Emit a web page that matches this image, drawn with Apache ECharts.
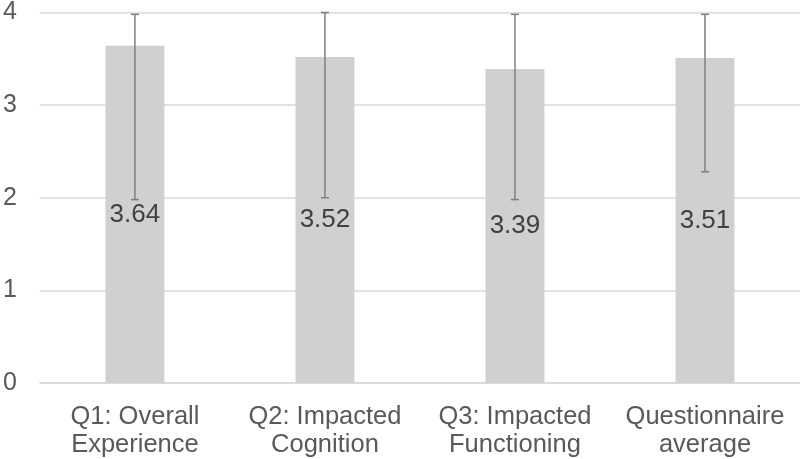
<!DOCTYPE html>
<html><head><meta charset="utf-8">
<script src="https://cdn.jsdelivr.net/npm/echarts@6/dist/echarts.min.js"></script>
<style>html,body{margin:0;padding:0;background:#fff}#c{width:800px;height:459px}</style>
</head><body><div id="c"></div>
<script>
const categories = ['Q1: Overall\nExperience', 'Q2: Impacted\nCognition', 'Q3: Impacted\nFunctioning', 'Questionnaire\naverage'];
const means = [3.64, 3.52, 3.39, 3.51];
const errLow = [1.98, 2.00, 1.98, 2.28];
const errHigh = [3.98, 4.00, 3.98, 3.98];
const yTicks = [0, 1, 2, 3, 4];

const chart = echarts.init(document.getElementById('c'), null, {renderer: 'canvas'});
const font = 'Arial, "Liberation Sans", sans-serif';
chart.setOption({
  animation: false,
  grid: {left: 35, right: 0, top: 10, bottom: 75},
  xAxis: {
    type: 'category', data: categories,
    axisLine: {lineStyle: {color: '#d9d9d9', width: 1.5}},
    axisTick: {show: false},
    axisLabel: {color: '#595959', fontSize: 25.5, fontFamily: font, lineHeight: 28, margin: 20, interval: 0}
  },
  yAxis: {
    type: 'value', min: yTicks[0], max: yTicks[yTicks.length - 1], interval: 1,
    axisLine: {show: false}, axisTick: {show: false},
    splitLine: {lineStyle: {color: '#d9d9d9', width: 1.5}},
    axisLabel: {color: '#595959', fontSize: 25, fontFamily: font, margin: 23}
  },
  series: [{
    type: 'bar', data: means, barWidth: '31%',
    itemStyle: {color: '#d0d0d0'},
    label: {show: true, position: 'inside', color: '#404040', fontSize: 26, fontFamily: font,
      formatter: p => p.value.toFixed(2)}
  }, {
    type: 'custom', z: 5,
    data: categories.map((c, i) => [i, errLow[i], errHigh[i]]),
    renderItem: (params, api) => {
      const lo = api.coord([api.value(0), api.value(1)]);
      const hi = api.coord([api.value(0), api.value(2)]);
      const hw = 4;
      const style = {stroke: '#7f7f7f', lineWidth: 1.5};
      return {type: 'group', children: [
        {type: 'line', shape: {x1: lo[0], y1: lo[1], x2: hi[0], y2: hi[1]}, style},
        {type: 'line', shape: {x1: lo[0]-hw, y1: lo[1], x2: lo[0]+hw, y2: lo[1]}, style},
        {type: 'line', shape: {x1: hi[0]-hw, y1: hi[1], x2: hi[0]+hw, y2: hi[1]}, style}
      ]};
    }
  }]
});
</script></body></html>
